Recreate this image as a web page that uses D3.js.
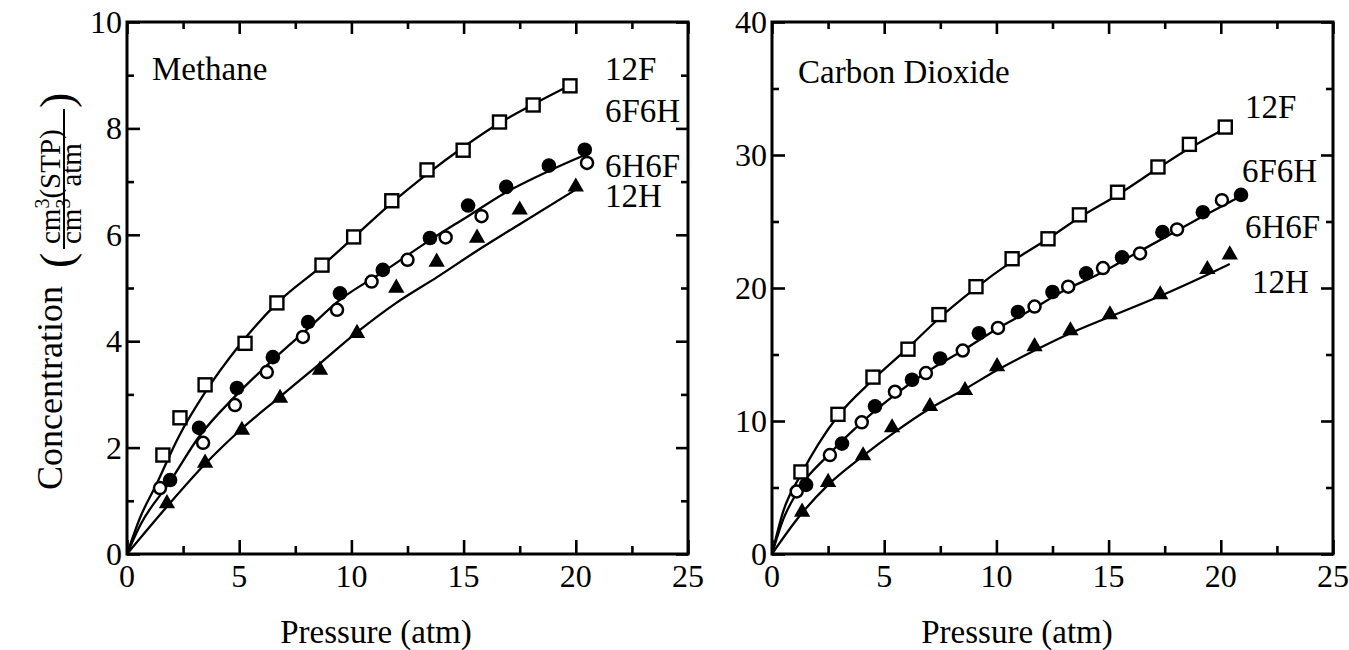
<!DOCTYPE html>
<html><head><meta charset="utf-8">
<script src="https://cdn.jsdelivr.net/npm/d3@7"></script>
<style>
body{margin:0;background:#fff;}
</style></head><body>
<svg id="chart" width="1349" height="650"></svg>
<script>
// ---------- DATA ----------
// Methane panel
const ch4_12F_x = [1.6,2.36,3.48,5.26,6.68,8.69,10.1,11.8,13.37,14.98,16.6,18.1,19.74];
const ch4_12F_y = [1.86,2.56,3.18,3.96,4.72,5.43,5.96,6.64,7.22,7.59,8.12,8.44,8.8];
const ch4_6F6H_x = [1.92,3.21,4.9,6.5,8.07,9.49,11.4,13.5,15.2,16.9,18.8,20.4];
const ch4_6F6H_y = [1.39,2.37,3.12,3.7,4.36,4.9,5.34,5.94,6.55,6.9,7.3,7.6];
const ch4_6H6F_x = [1.47,3.39,4.81,6.23,7.84,9.36,10.9,12.5,14.2,15.8,20.5];
const ch4_6H6F_y = [1.24,2.09,2.8,3.42,4.08,4.59,5.12,5.53,5.95,6.35,7.35];
const ch4_12H_x = [1.78,3.48,5.12,6.82,8.6,10.25,12.0,13.8,15.6,17.5,20.0];
const ch4_12H_y = [0.95,1.71,2.33,2.93,3.46,4.15,5.0,5.49,5.94,6.47,6.9];
// fitted curves
const ch4_fitF_x = [0,0.6,1.3,2.3,3.5,5,6.7,8.7,10.1,11.8,13.4,15,16.6,18.1,19.7];
const ch4_fitF_y = [0,0.7,1.3,2.2,3.05,3.92,4.72,5.42,5.95,6.6,7.15,7.65,8.1,8.45,8.8];
const ch4_fitC_x = [0,0.6,1.9,3.2,4.9,6.5,8.1,9.5,11.4,13.5,15.2,16.9,18.8,20.4];
const ch4_fitC_y = [0,0.55,1.35,2.2,3.0,3.65,4.25,4.78,5.3,5.9,6.35,6.8,7.2,7.5];
const ch4_fitH_x = [0,1.8,3.5,5.1,6.8,8.6,10.2,12,13.8,15.6,17.5,20];
const ch4_fitH_y = [0,0.9,1.7,2.35,2.95,3.58,4.15,4.72,5.2,5.7,6.2,6.85];

// Carbon dioxide panel
const co2_12F_x = [1.29,2.94,4.5,6.06,7.44,9.09,10.7,12.3,13.7,15.4,17.2,18.6,20.2];
const co2_12F_y = [6.17,10.5,13.3,15.4,18.0,20.1,22.2,23.7,25.5,27.2,29.1,30.8,32.1];
const co2_6F6H_x = [1.52,3.12,4.59,6.24,7.49,9.22,10.96,12.5,14.0,15.6,17.4,19.2,20.9];
const co2_6F6H_y = [5.2,8.3,11.1,13.1,14.7,16.6,18.2,19.7,21.1,22.3,24.2,25.7,27.0];
const co2_6H6F_x = [1.1,2.58,4.0,5.48,6.86,8.5,10.07,11.7,13.2,14.75,16.4,18.05,20.05];
const co2_6H6F_y = [4.7,7.44,9.9,12.2,13.6,15.3,17.0,18.6,20.1,21.5,22.6,24.4,26.6];
const co2_12H_x = [1.34,2.5,4.06,5.35,7.04,8.6,10.03,11.7,13.3,15.06,17.3,19.4,20.4];
const co2_12H_y = [3.16,5.4,7.4,9.5,11.1,12.3,14.1,15.6,16.8,18.0,19.5,21.4,22.5];
const co2_fitF_x = [0,0.5,1.3,2.9,4.5,6,7.5,9,10.7,12.3,13.7,15.4,17.2,18.6,20.2];
const co2_fitF_y = [0,3.2,6.0,10.3,13.1,15.4,17.8,19.9,22.0,23.7,25.3,27.0,29.0,30.5,32.0];
const co2_fitC_x = [0,0.5,1.1,2.6,4,5.5,7,8.5,10,11.5,13,14.5,16,17.5,19,21];
const co2_fitC_y = [0,2.6,4.6,7.6,9.9,12.0,13.8,15.3,16.9,18.3,19.8,21.0,22.4,23.8,25.2,27.0];
const co2_fitH_x = [0,1.3,2.5,4,5.5,7,8.6,10,11.7,13.3,15,17.3,19.4,20.4];
const co2_fitH_y = [0,3.0,5.2,7.3,9.2,10.9,12.4,13.8,15.3,16.6,17.8,19.4,21.0,21.8];

const xTicksMajor = [0,5,10,15,20,25];
const ch4_yTicks = [0,2,4,6,8,10];
const co2_yTicks = [0,10,20,30,40];
const seriesNames = ["12F","6F6H","6H6F","12H"];

// ---------- helpers ----------
const FONT = "Liberation Serif";
const zip = (xs, ys) => xs.map((x,i)=>[x, ys[i]]);
const svg = d3.select("#chart");

function panel(cfg){
  const x = d3.scaleLinear().domain([0,25]).range([cfg.x0, cfg.x1]);
  const y = d3.scaleLinear().domain([0,cfg.ymax]).range([554, 22]);
  const g = svg.append("g");

  const xMinor = d3.range(0, 25.01, 2.5).filter(v => v % 5 !== 0);
  const yMinor = d3.range(0, cfg.ymax+0.001, cfg.yMinorStep).filter(v => !cfg.yTicks.includes(+v.toFixed(3)));
  const tickStyle = sel => { sel.select(".domain").remove(); sel.selectAll("text").remove();
    sel.selectAll("line").attr("stroke","#000").attr("stroke-width",2.6); };

  g.append("g").attr("transform",`translate(0,${y(0)})`)
    .call(d3.axisTop(x).tickValues(xTicksMajor).tickSize(14)).call(tickStyle);
  g.append("g").attr("transform",`translate(0,${y(0)})`)
    .call(d3.axisTop(x).tickValues(xMinor).tickSize(8)).call(tickStyle);
  g.append("g").attr("transform",`translate(0,${y(cfg.ymax)})`)
    .call(d3.axisBottom(x).tickValues(xTicksMajor).tickSize(12)).call(tickStyle);
  g.append("g").attr("transform",`translate(0,${y(cfg.ymax)})`)
    .call(d3.axisBottom(x).tickValues(xMinor).tickSize(7)).call(tickStyle);
  g.append("g").attr("transform",`translate(${x(0)},0)`)
    .call(d3.axisRight(y).tickValues(cfg.yTicks).tickSize(13)).call(tickStyle);
  g.append("g").attr("transform",`translate(${x(0)},0)`)
    .call(d3.axisRight(y).tickValues(yMinor).tickSize(7)).call(tickStyle);
  g.append("g").attr("transform",`translate(${x(25)},0)`)
    .call(d3.axisLeft(y).tickValues(cfg.yTicks).tickSize(12)).call(tickStyle);
  g.append("g").attr("transform",`translate(${x(25)},0)`)
    .call(d3.axisLeft(y).tickValues(yMinor).tickSize(7)).call(tickStyle);

  g.append("rect").attr("x",x(0)).attr("y",y(cfg.ymax)).attr("width",x(25)-x(0)).attr("height",y(0)-y(cfg.ymax))
    .attr("fill","none").attr("stroke","#000").attr("stroke-width",3);

  g.selectAll(".xl").data(xTicksMajor).join("text")
    .attr("x", d=>x(d)).attr("y", 587).attr("text-anchor","middle")
    .style("font-family",FONT).style("font-size","32px").text(d=>d);
  g.selectAll(".yl").data(cfg.yTicks).join("text")
    .attr("x", x(0)-5).attr("y", d=>y(d)+11).attr("text-anchor","end")
    .style("font-family",FONT).style("font-size","32px").text(d=>d);

  g.append("text").attr("x", cfg.xlabX).attr("y", 643).attr("text-anchor","middle")
    .style("font-family",FONT).style("font-size","33px").text("Pressure (atm)");

  const line = d3.line().x(d=>x(d[0])).y(d=>y(d[1])).curve(d3.curveMonotoneX);
  cfg.fits.forEach(f => g.append("path").attr("d", line(f)).attr("fill","none")
    .attr("stroke","#000").attr("stroke-width",2.3));

  const [sqF, fc, oc, tri] = cfg.series;
  g.selectAll(".sq").data(sqF).join("rect")
    .attr("x", d=>x(d[0])-6.5).attr("y", d=>y(d[1])-6.5).attr("width",13).attr("height",13)
    .attr("fill","#fff").attr("stroke","#000").attr("stroke-width",2.4);
  g.selectAll(".oc").data(oc).join("circle")
    .attr("cx", d=>x(d[0])).attr("cy", d=>y(d[1])).attr("r",6)
    .attr("fill","#fff").attr("stroke","#000").attr("stroke-width",2.5);
  g.selectAll(".fc").data(fc).join("circle")
    .attr("cx", d=>x(d[0])).attr("cy", d=>y(d[1])).attr("r",7.3).attr("fill","#000");
  const triSym = d3.symbol(d3.symbolTriangle, 115);
  g.selectAll(".tr").data(tri).join("path")
    .attr("transform", d=>`translate(${x(d[0])},${y(d[1])})`).attr("d", triSym).attr("fill","#000");

  g.append("text").attr("x", x(cfg.title[1])).attr("y", y(cfg.title[2]))
    .style("font-family",FONT).style("font-size", cfg.titleSize+"px").text(cfg.title[0]);
  seriesNames.forEach((n,i)=>{
    g.append("text").attr("x", x(cfg.labels[i][0])).attr("y", y(cfg.labels[i][1]))
      .style("font-family",FONT).style("font-size","33px").text(n);
  });
}

panel({
  x0:127, x1:688, ymax:10, yTicks:ch4_yTicks, yMinorStep:1, xlabX:376, titleSize:33,
  series:[zip(ch4_12F_x,ch4_12F_y), zip(ch4_6F6H_x,ch4_6F6H_y), zip(ch4_6H6F_x,ch4_6H6F_y), zip(ch4_12H_x,ch4_12H_y)],
  fits:[zip(ch4_fitF_x,ch4_fitF_y), zip(ch4_fitC_x,ch4_fitC_y), zip(ch4_fitH_x,ch4_fitH_y)],
  title:["Methane",1.11,8.91],
  labels:[[21.3,8.91],[21.3,8.12],[21.3,7.08],[21.3,6.52]]
});
panel({
  x0:772, x1:1333, ymax:40, yTicks:co2_yTicks, yMinorStep:5, xlabX:1017, titleSize:33,
  series:[zip(co2_12F_x,co2_12F_y), zip(co2_6F6H_x,co2_6F6H_y), zip(co2_6H6F_x,co2_6H6F_y), zip(co2_12H_x,co2_12H_y)],
  fits:[zip(co2_fitF_x,co2_fitF_y), zip(co2_fitC_x,co2_fitC_y), zip(co2_fitH_x,co2_fitH_y)],
  title:["Carbon Dioxide",1.16,35.4],
  labels:[[21.08,32.8],[20.94,27.97],[21.08,23.76],[21.39,19.62]]
});

// y-axis title (rotated, with fraction)
const yt = svg.append("g").attr("transform","rotate(-90)").style("font-family",FONT);
yt.append("text").attr("x",-490).attr("y",62).style("font-size","36px").text("Concentration");
yt.append("text").attr("x",-268).attr("y",72).style("font-size","46px").text("(");
yt.append("text").attr("x",-108).attr("y",72).style("font-size","46px").text(")");
const num = yt.append("text").attr("x",-244).attr("y",60).style("font-size","29px");
num.append("tspan").text("cm");
num.append("tspan").style("font-size","20px").attr("dy",-11).text("3");
num.append("tspan").attr("dy",11).text("(STP)");
yt.append("line").attr("x1",-249).attr("x2",-109).attr("y1",64).attr("y2",64).attr("stroke","#000").attr("stroke-width",2);
const den = yt.append("text").attr("x",-244).attr("y",81).style("font-size","29px");
den.append("tspan").text("cm");
den.append("tspan").style("font-size","20px").attr("dy",-11).text("3");
den.append("tspan").attr("dy",11).attr("dx",12).text("atm");
</script>
</body></html>
